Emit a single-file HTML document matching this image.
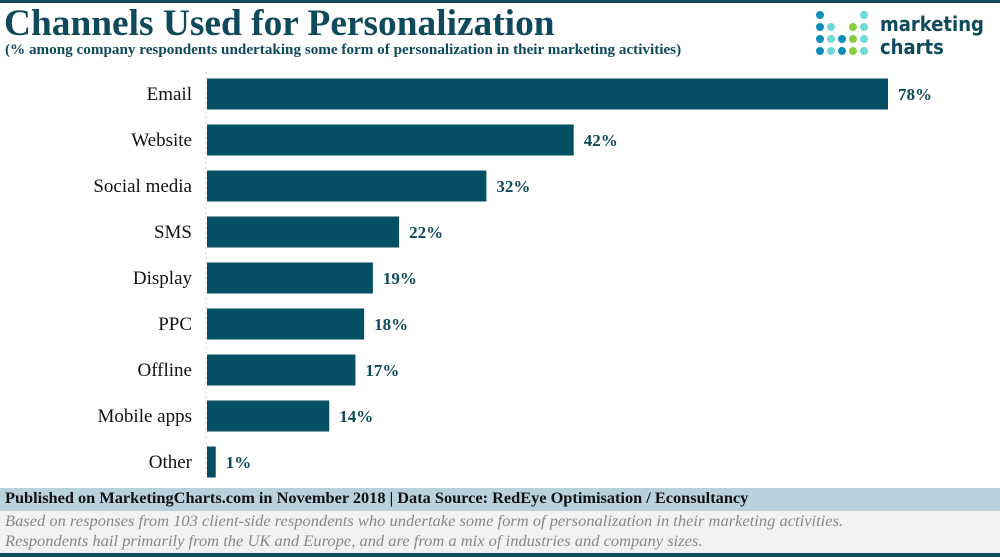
<!DOCTYPE html>
<html><head><meta charset="utf-8"><style>
body{margin:0;width:1000px;height:557px;overflow:hidden;background:#fff;font-family:"Liberation Serif",serif;position:relative}
.abs{position:absolute}
</style></head><body>
<div class="abs" style="left:0;top:0;width:1000px;height:3px;background:#0e4a5c"></div>
<div class="abs" style="left:4px;top:2px;font-size:37px;font-weight:bold;color:#0e4a5c;white-space:nowrap;transform:scaleX(1.01);transform-origin:left">Channels Used for Personalization</div>
<div class="abs" style="left:5px;top:42px;font-size:15px;font-weight:bold;color:#0e4a5c;white-space:nowrap;transform:scaleX(1.01);transform-origin:left">(% among company respondents undertaking some form of personalization in their marketing activities)</div>
<svg class="abs" style="left:800px;top:0" width="200" height="65" id="logo"></svg>
<svg class="abs" style="left:0;top:0" width="1000" height="485" id="chart"></svg>
<div class="abs" style="left:0;top:488px;width:1000px;height:23px;background:#b9d0dd"></div>
<div class="abs" style="left:5px;top:490px;font-size:16px;font-weight:bold;color:#111;white-space:nowrap;transform:scaleX(1.02);transform-origin:left">Published on MarketingCharts.com in November 2018 | Data Source: RedEye Optimisation / Econsultancy</div>
<div class="abs" style="left:0;top:511px;width:1000px;height:42px;background:#f2f2f2"></div>
<div class="abs" style="left:5px;top:512px;font-size:16px;font-style:italic;color:#888;line-height:20px;white-space:nowrap;transform:scaleX(1.03);transform-origin:left">Based on responses from 103 client-side respondents who undertake some form of personalization in their marketing activities.<br>Respondents hail primarily from the UK and Europe, and are from a mix of industries and company sizes.</div>
<div class="abs" style="left:0;top:553px;width:1000px;height:4px;background:#0e4a5c"></div>
<script>
const categories=["Email","Website","Social media","SMS","Display","PPC","Offline","Mobile apps","Other"];
const values=[78,42,32,22,19,18,17,14,1];
const valueLabels=["78%","42%","32%","22%","19%","18%","17%","14%","1%"];
const NS="http://www.w3.org/2000/svg";
const svg=document.getElementById('chart');
const x0=207,scale=(888-207)/78;
const xs=v=>v*scale;
const ys=i=>94+i*46;
function mk(t,a){const e=document.createElementNS(NS,t);for(const k in a)e.setAttribute(k,a[k]);return e;}
const axis=mk('line',{x1:x0-1,y1:72,x2:x0-1,y2:478,stroke:'#ccc','stroke-dasharray':'2,3'});


svg.appendChild(axis);
categories.forEach((c,i)=>{
 const r=mk('rect',{x:x0,y:ys(i)-15.5,width:xs(values[i]),height:31,fill:'#044f63'});
 
 
 svg.appendChild(r);
 const l=mk('text',{x:192,y:ys(i)+6,'text-anchor':'end','font-size':19,fill:'#111','font-family':'Liberation Serif, serif'});
 l.textContent=c;
 
 
 svg.appendChild(l);
 const v=mk('text',{x:x0+xs(values[i])+10,y:ys(i)+6,'font-size':17,'font-weight':'bold',fill:'#0e4a5c','font-family':'Liberation Serif, serif'});
 v.textContent=valueLabels[i];
 
 
 svg.appendChild(v);
});
const logo=document.getElementById('logo');
const B='#0a8fb8',T='#6fd9da',G='#8ccf3e';
const dots=[[B,null,null,null,T],[B,T,null,G,T],[B,T,B,G,T],[B,T,B,G,T]];
dots.forEach((row,ri)=>row.forEach((c,ci)=>{if(c)logo.appendChild(mk('circle',{cx:20+ci*11,cy:15+ri*12,r:4,fill:c}));}));
const t1=mk('text',{x:80,y:31,'font-size':20,'font-weight':'bold',fill:'#0e4a5c','font-family':'DejaVu Sans, sans-serif',transform:'translate(80,0) scale(0.9,1) translate(-80,0)'});t1.textContent='marketing';logo.appendChild(t1);
const t2=mk('text',{x:80,y:54,'font-size':20,'font-weight':'bold',fill:'#0e4a5c','font-family':'DejaVu Sans, sans-serif',transform:'translate(80,0) scale(0.9,1) translate(-80,0)'});t2.textContent='charts';logo.appendChild(t2);
</script>
</body></html>
